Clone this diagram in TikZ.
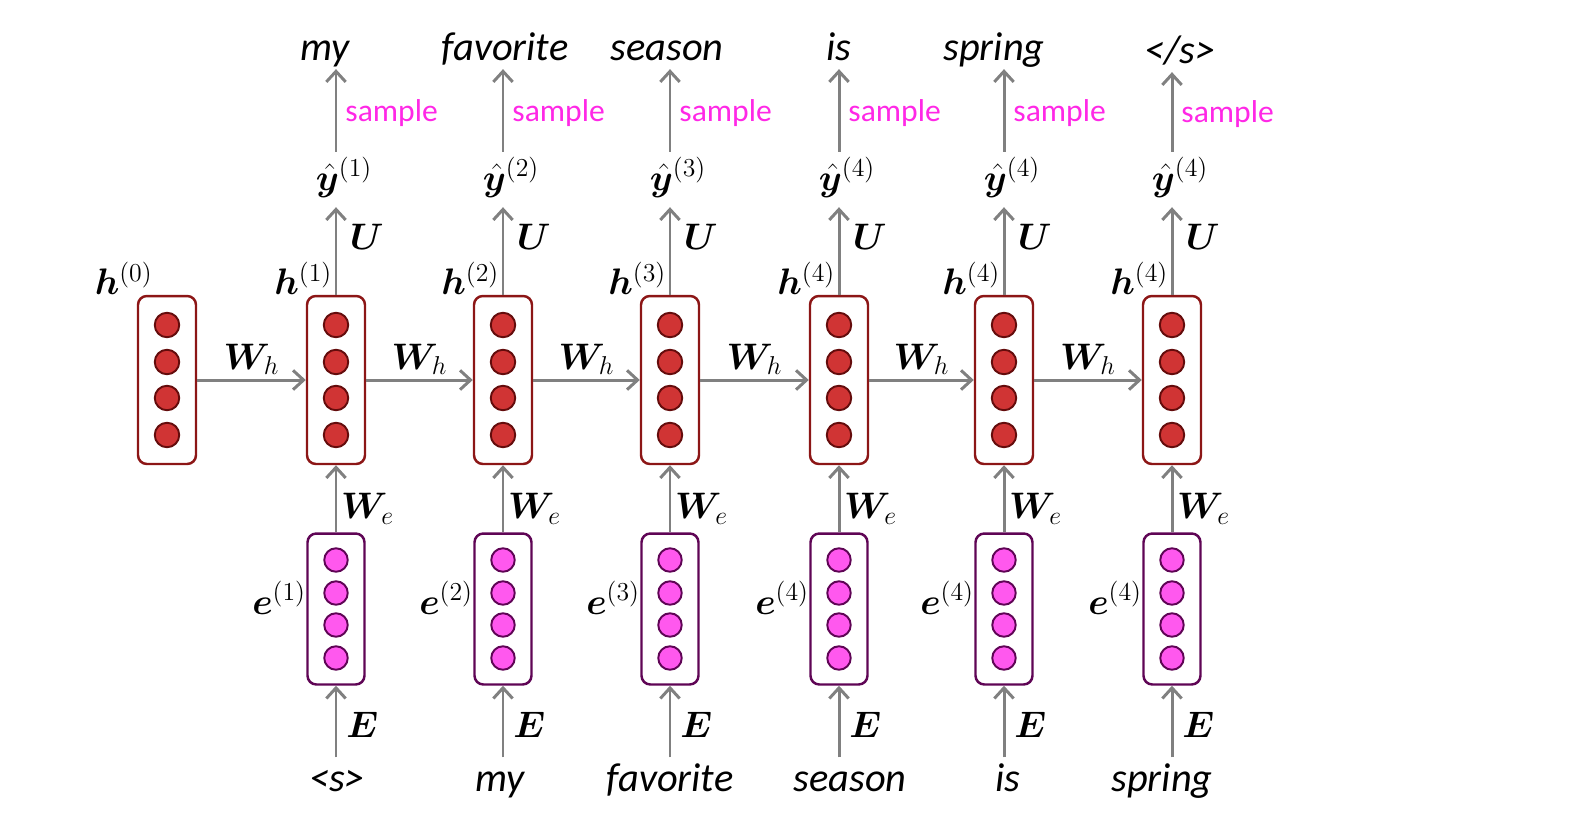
\documentclass[tikz,border=0pt]{standalone}
\usepackage{fix-cm}
\usepackage{amsmath,bm}
\usepackage{fontspec}
\newfontfamily\wordfont{Carlito}
\usetikzlibrary{arrows.meta,calc,positioning}

\definecolor{hborder}{RGB}{140,22,22}
\definecolor{hunitline}{RGB}{100,12,12}
\definecolor{hunitfill}{RGB}{208,52,52}
\definecolor{eborder}{RGB}{95,5,85}
\definecolor{eunitline}{RGB}{95,5,85}
\definecolor{eunitfill}{RGB}{255,88,238}
\definecolor{linkgray}{RGB}{128,128,128}
\definecolor{sampcol}{RGB}{255,40,230}

\begin{document}
\begin{tikzpicture}[x=0.02cm, y=-0.02cm,
    hiddenbox/.style={draw=hborder, line width=1.4pt, rounded corners=5pt,
      minimum width=1.16cm, minimum height=3.36cm, inner sep=0pt},
    embedbox/.style={draw=eborder, line width=1.4pt, rounded corners=5pt,
      minimum width=1.14cm, minimum height=3.02cm, inner sep=0pt},
    hunit/.style={circle, draw=hunitline, fill=hunitfill, line width=1.1pt,
      minimum size=0.49cm, inner sep=0pt},
    eunit/.style={circle, draw=eunitline, fill=eunitfill, line width=1.1pt,
      minimum size=0.47cm, inner sep=0pt},
    link/.style={draw=linkgray, line width=1.7pt,
      -{Straight Barb[length=6pt,width=11pt]}},
    vec/.style={font=\fontsize{21}{25}\selectfont, inner sep=0pt},
    yhat/.style={vec, anchor=base},
    wgt/.style={font=\fontsize{21}{25}\selectfont, inner sep=2pt},
    outword/.style={font=\wordfont\itshape\fontsize{23}{27}\selectfont,
      anchor=base, inner sep=0pt, text height=14pt, text depth=5pt},
    inword/.style={outword, inner ysep=5pt},
    smp/.style={font=\wordfont\fontsize{18}{22}\selectfont, text=sampcol,
      inner sep=0pt}]

   \useasboundingbox (0,0) rectangle (1580,812);

   % hidden states
   \node[hiddenbox] (h0) at (167,380) {};
   \node[hiddenbox] (h1) at (336,380) {};
   \node[hiddenbox] (h2) at (503,380) {};
   \node[hiddenbox] (h3) at (670,380) {};
   \node[hiddenbox] (h4) at (839,380) {};
   \node[hiddenbox] (h5) at (1004,380) {};
   \node[hiddenbox] (h6) at (1172,380) {};

   % embeddings
   \node[embedbox] (e1) at (336,609) {};
   \node[embedbox] (e2) at (503,609) {};
   \node[embedbox] (e3) at (670,609) {};
   \node[embedbox] (e4) at (839,609) {};
   \node[embedbox] (e5) at (1004,609) {};
   \node[embedbox] (e6) at (1172,609) {};

   \foreach \b in {h0,h1,h2,h3,h4,h5,h6}
     \foreach \k/\d in {1/-55,2/-18,3/18,4/55}
       \node[hunit] (\b-\k) at ($(\b)+(0,\d)$) {};
   \foreach \b in {e1,e2,e3,e4,e5,e6}
     \foreach \k/\d in {1/-49,2/-16,3/16,4/49}
       \node[eunit] (\b-\k) at ($(\b)+(0,\d)$) {};

   % labels of the vectors
   \node[vec, anchor=base east] (lh0) at ([xshift=-8pt]h0.north) {$\bm{h}^{(0)}$};
   \node[vec, anchor=base east] (lh1) at ([xshift=-2pt]h1.north) {$\bm{h}^{(1)}$};
   \node[vec, anchor=base east] (lh2) at ([xshift=-2pt]h2.north) {$\bm{h}^{(2)}$};
   \node[vec, anchor=base east] (lh3) at ([xshift=-2pt]h3.north) {$\bm{h}^{(3)}$};
   \node[vec, anchor=base east] (lh4) at ([xshift=-2pt]h4.north) {$\bm{h}^{(4)}$};
   \node[vec, anchor=base east] (lh5) at ([xshift=-2pt]h5.north) {$\bm{h}^{(4)}$};
   \node[vec, anchor=base east] (lh6) at ([xshift=-2pt]h6.north) {$\bm{h}^{(4)}$};

   \node[vec, anchor=base east] (le1) at ([yshift=-3pt]e1.west) {$\bm{e}^{(1)}$};
   \node[vec, anchor=base east] (le2) at ([yshift=-3pt]e2.west) {$\bm{e}^{(2)}$};
   \node[vec, anchor=base east] (le3) at ([yshift=-3pt]e3.west) {$\bm{e}^{(3)}$};
   \node[vec, anchor=base east] (le4) at ([yshift=-3pt]e4.west) {$\bm{e}^{(4)}$};
   \node[vec, anchor=base east] (le5) at ([yshift=-3pt]e5.west) {$\bm{e}^{(4)}$};
   \node[vec, anchor=base east] (le6) at ([yshift=-3pt]e6.west) {$\bm{e}^{(4)}$};

   \node[yhat] (y1) at (344,190) {$\hat{\bm{y}}^{(1)}$};
   \node[yhat] (y2) at (511,190) {$\hat{\bm{y}}^{(2)}$};
   \node[yhat] (y3) at (678,190) {$\hat{\bm{y}}^{(3)}$};
   \node[yhat] (y4) at (847,190) {$\hat{\bm{y}}^{(4)}$};
   \node[yhat] (y5) at (1012,190) {$\hat{\bm{y}}^{(4)}$};
   \node[yhat] (y6) at (1180,190) {$\hat{\bm{y}}^{(4)}$};

   % words
   \node[outword] (w1) at (325,60) {my};
   \node[outword] (w2) at (505,60) {favorite};
   \node[outword] (w3) at (667,60) {season};
   \node[outword] (w4) at (839,60) {is};
   \node[outword] (w5) at (994,60) {spring};
   \node[outword] (w6) at (1180,63) {</s>};

   \node[inword] (x1) at (337,791) {<s>};
   \node[inword] (x2) at (500,791) {my};
   \node[inword] (x3) at (670,791) {favorite};
   \node[inword] (x4) at (850,791) {season};
   \node[inword] (x5) at (1008,791) {is};
   \node[inword] (x6) at (1162,791) {spring};

   % recurrence
   \draw[link] (h0.east) -- (h1.west) node[wgt, midway, above] {$\bm{W}_h$};
   \draw[link] (h1.east) -- (h2.west) node[wgt, midway, above] {$\bm{W}_h$};
   \draw[link] (h2.east) -- (h3.west) node[wgt, midway, above] {$\bm{W}_h$};
   \draw[link] (h3.east) -- (h4.west) node[wgt, midway, above] {$\bm{W}_h$};
   \draw[link] (h4.east) -- (h5.west) node[wgt, midway, above] {$\bm{W}_h$};
   \draw[link] (h5.east) -- (h6.west) node[wgt, midway, above] {$\bm{W}_h$};

   % inputs
   \foreach \i in {1,...,6} {
     \draw[link] (e\i |- x\i.north) -- (e\i.south)
       node[wgt, pos=0.45, right=3pt] {$\bm{E}$};
     \draw[link] (e\i.north) -- (h\i.south)
       node[wgt, pos=0.35, right] {$\bm{W}_e$};
     \draw[link, shorten >=5.5pt] (h\i.north) -- (h\i.north |- y\i.south)
       node[wgt, pos=0.6, right=5pt] {$\bm{U}$};
     \draw[link, shorten <=3pt] (h\i |- y\i.north) -- (h\i |- w\i.south)
       node[smp, pos=0.5, right=4.5pt] {sample};
   }
 \end{tikzpicture}
\end{document}
